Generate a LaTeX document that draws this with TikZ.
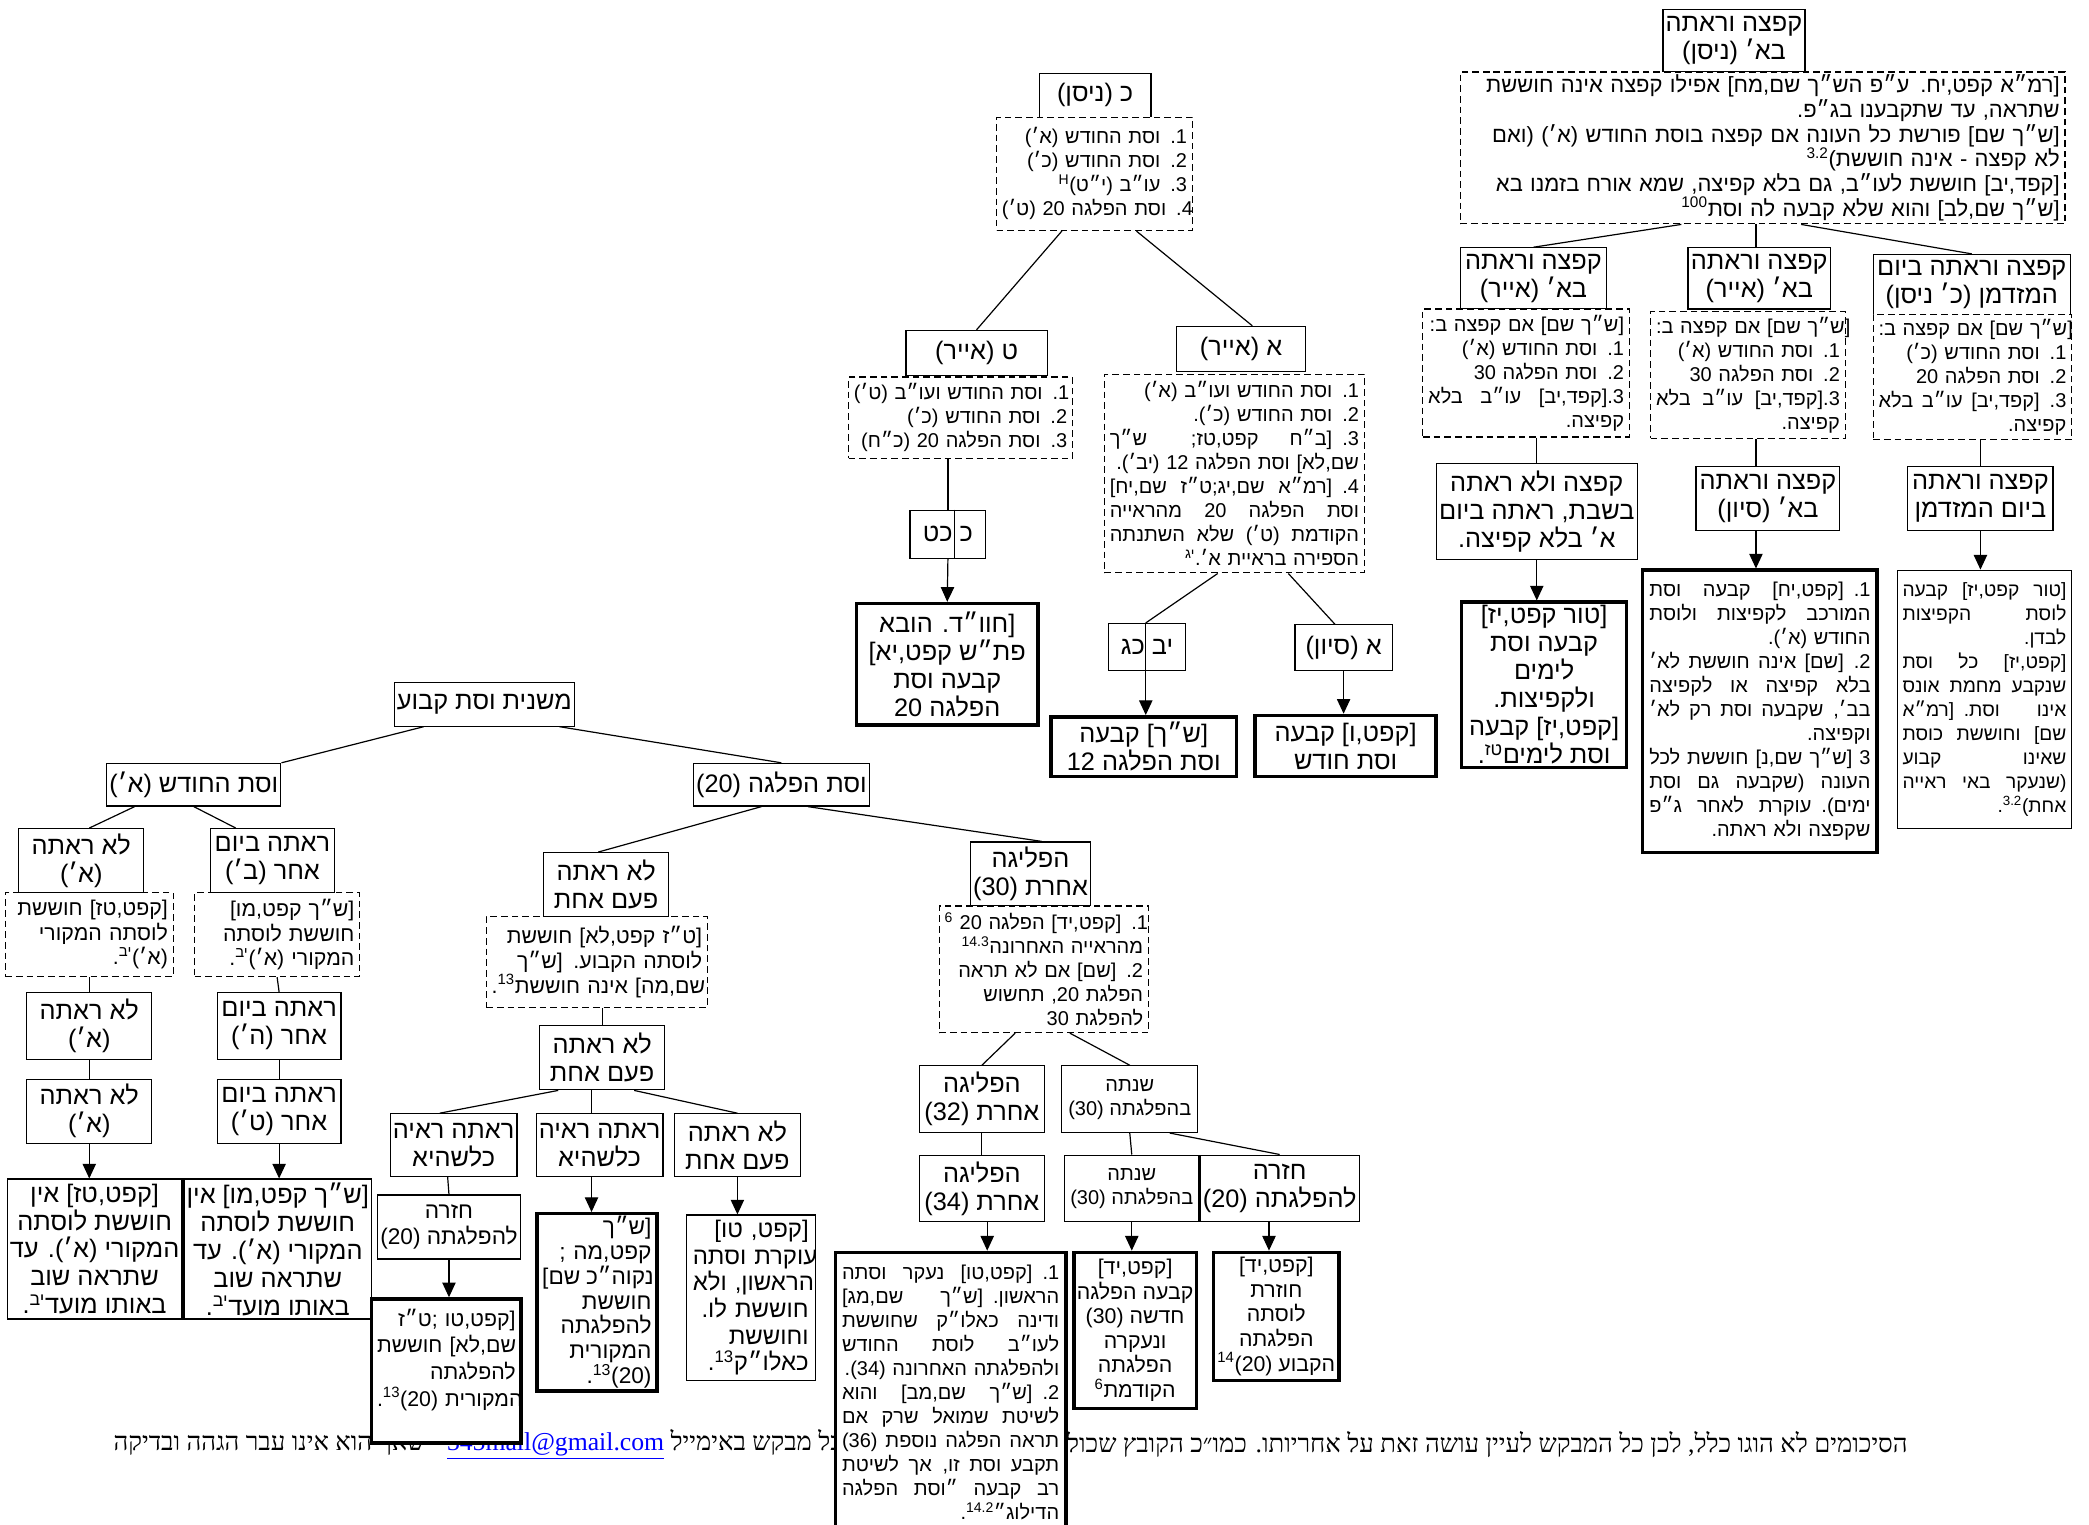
\documentclass[tikz,border=0pt]{standalone}
\usepackage{fontspec}
\usepackage{xcolor}
\usetikzlibrary{arrows.meta}
\newfontfamily\heb[Script=Hebrew]{Liberation Sans}
\newfontfamily\hebr[Script=Hebrew]{Liberation Serif}
\TeXXeTstate=1
\newcommand{\rln}[1]{\leavevmode\hbox{\beginR #1\endR}}
\newcommand{\rlj}[1]{\leavevmode\hbox to \hsize{\spaceskip=0.25em plus 1fil\beginR #1\endR}}
\newcommand{\sps}[1]{\textsuperscript{#1}}
\newcommand{\bigtxt}{\heb\fontsize{19}{21}\selectfont}
\newcommand{\midtxt}{\heb\fontsize{17}{20}\selectfont}
\newcommand{\smalltxt}{\heb\fontsize{15}{18}\selectfont}
\newcommand{\dtxt}{\heb\fontsize{16}{18.5}\selectfont}
\newcommand{\foottxt}{\hebr\fontsize{19.3}{22}\selectfont}
\tikzset{
  box/.style={draw,fill=white,line width=0.9pt,font=\bigtxt,align=center,inner sep=2pt},
  tbox/.style={box,line width=2.6pt},
  dbox/.style={draw,fill=white,line width=0.9pt,dash pattern=on 5pt off 3pt,
    font=\smalltxt,align=right,inner xsep=4pt,inner ysep=2pt},
  link/.style={line width=0.9pt},
  arr/.style={line width=0.9pt,-{Triangle[length=11pt,width=10pt]}}
}
\begin{document}
\begin{tikzpicture}[x=1pt,y=-1pt]
\useasboundingbox (0,0) rectangle (1568,1144);
\clip (0,0) rectangle (1568,1144);
% bas de page (sous les cadres)
\node[anchor=east,font=\foottxt,inner sep=0pt] (foota) at (1432,1084)
  {\rln{הסיכומים לא הוגו כלל, לכן כל המבקש לעיין עושה זאת על אחריותו. כמו״כ הקובץ שכולל את}};
\node[anchor=west,font=\foottxt,inner sep=0pt] (footb) at (85,1084)
  {\rln{נשלח לכל מבקש באימייל \beginL\textcolor{blue}{\underline{345mail@gmail.com}}\endL{} - שאף הוא אינו עבר הגהה ובדיקה}};

% קפצה וראתה בא' (ניסן)
\node[box,minimum width=93,minimum height=47] (nisan) at (1301.5,30.5) {\rln{קפצה וראתה}\\\rln{בא׳ (ניסן)}};
\node[dbox,minimum width=454,minimum height=114,text width=446,font=\heb\fontsize{16.5}{18.5}\selectfont] (nisand) at (1323,111)
  {\rln{[רמ״א קפט,יח. ע״פ הש״ך שם,מח] אפילו קפצה אינה חוששת}\\
   \rln{שתראה, עד שתקבענו בג״פ.}\\
   \rln{[ש״ך שם] פורשת כל העונה אם קפצה בוסת החודש (א׳) (ואם}\\
   \rln{לא קפצה - אינה חוששת)\sps{3.2}}\\
   \rln{[קפד,יב] חוששת לעו״ב, גם בלא קפיצה, שמא אורח בזמנו בא}\\
   \rln{[ש״ך שם,לב] והוא שלא קבעה לה וסת\sps{100}}};
\node[box,minimum width=110,minimum height=46] (iyarA) at (1151,209) {\rln{קפצה וראתה}\\\rln{בא׳ (אייר)}};
\node[box,minimum width=107,minimum height=46] (iyarB) at (1320.5,209) {\rln{קפצה וראתה}\\\rln{בא׳ (אייר)}};
\node[box,minimum width=148,minimum height=45] (mezuman) at (1480,213.5) {\rln{קפצה וראתה ביום}\\\rln{המזדמן (כ׳ ניסן)}};
\node[dbox,minimum width=155,minimum height=96,text width=147] (iyarAd) at (1145.5,280)
  {\rln{[ש״ך שם] אם קפצה ב:}\\\rln{1. וסת החודש (א׳)}\\\rln{2. וסת הפלגה 30}\\\rlj{3.[קפד,יב] עו״ב בלא}\\\rln{קפיצה.}};
\node[dbox,minimum width=146,minimum height=95,text width=138] (iyarBd) at (1312,281.5)
  {\rln{[ש״ך שם] אם קפצה ב:}\\\rln{1. וסת החודש (א׳)}\\\rln{2. וסת הפלגה 30}\\\rlj{3.[קפד,יב] עו״ב בלא}\\\rln{קפיצה.}};
\node[dbox,minimum width=149,minimum height=94,text width=141] (mezumand) at (1480.5,283)
  {\rln{[ש״ך שם] אם קפצה ב:}\\\rln{1. וסת החודש (כ׳)}\\\rln{2. וסת הפלגה 20}\\\rlj{3. [קפד,יב] עו״ב בלא}\\\rln{קפיצה.}};
\node[box,minimum width=151,minimum height=72] (shabbat) at (1153.5,384) {\rln{קפצה ולא ראתה}\\\rln{בשבת, ראתה ביום}\\\rln{א׳ בלא קפיצה.}};
\node[box,minimum width=108,minimum height=48] (sivan) at (1327,374) {\rln{קפצה וראתה}\\\rln{בא׳ (סיון)}};
\node[box,minimum width=109,minimum height=48] (mezumanB) at (1486.5,374) {\rln{קפצה וראתה}\\\rln{ביום המזדמן}};
\node[tbox,minimum width=124,minimum height=124] (resA) at (1159,514)
  {\rln{[טור קפט,יז]}\\\rln{קבעה וסת}\\\rln{לימים}\\\rln{ולקפיצות.}\\\rln{[קפט,יז] קבעה}\\\rln{וסת לימים\sps{טז}.}};
\node[tbox,minimum width=176,minimum height=212,font=\smalltxt,align=right,text width=166] (resB) at (1321,534)
  {\rlj{1. [קפט,יח] קבעה וסת}\\\rlj{המורכב לקפיצות ולוסת}\\\rln{החודש (א׳).}\\
   \rlj{2. [שם] אינה חוששת לא׳}\\\rlj{בלא קפיצה או לקפיצה}\\\rlj{בב׳, שקבעה וסת רק לא׳}\\\rln{וקפיצה.}\\
   \rlj{3 [ש״ך שם,נ] חוששת לכל}\\\rlj{העונה (שקבעה גם וסת}\\\rlj{ימים). עוקרת לאחר ג״פ}\\\rln{שקפצה ולא ראתה.}};
\node[box,minimum width=131,minimum height=194,font=\heb\fontsize{14.4}{18}\selectfont,align=right,text width=123] (resC) at (1489.5,525)
  {\rlj{[טור קפט,יז] קבעה}\\\rlj{לוסת הקפיצות}\\\rln{לבדן.}\\\rlj{[קפט,יז] כל וסת}\\\rlj{שנקבע מחמת אונס}\\
   \rlj{אינו וסת. [רמ״א}\\\rlj{שם] וחוששת כוסת}\\\rlj{שאינו קבוע}\\\rlj{(שנעקר באי ראייה}\\\rln{אחת)\sps{3.2}.}};

% כ (ניסן)
\node[box,minimum width=84,minimum height=33] (kn) at (822,71.5) {\rln{כ (ניסן)}};
\node[dbox,minimum width=147,minimum height=85,text width=139] (knd) at (821.5,130.5)
  {\rln{1. וסת החודש (א׳)}\\\rln{2. וסת החודש (כ׳)}\\\rln{3. עו״ב (י״ט)\sps{H}}\\\rln{4. וסת הפלגה 20 (ט׳)}};
\node[box,minimum width=106,minimum height=34] (tiyar) at (733,265) {\rln{ט (אייר)}};
\node[dbox,minimum width=168,minimum height=61,text width=160] (tiyard) at (721,313.5)
  {\rln{1. וסת החודש ועו״ב (ט׳)}\\\rln{2. וסת החודש (כ׳)}\\\rln{3. וסת הפלגה 20 (כ״ח)}};
\node[box,minimum width=57,minimum height=36] (kkt) at (711.5,401) {\rln{כ כט}};
\node[tbox,minimum width=136,minimum height=91] (hvd) at (711,498.5)
  {\rln{[חוו״ד. הובא}\\\rln{פת״ש קפט,יא]}\\\rln{קבעה וסת}\\\rln{הפלגה 20}};
\node[box,minimum width=97,minimum height=34] (aiyar) at (931.5,262) {\rln{א (אייר)}};
\node[dbox,minimum width=195,minimum height=149,text width=187] (aiyard) at (926.5,355.5)
  {\rln{1. וסת החודש ועו״ב (א׳)}\\\rln{2. וסת החודש (כ׳).}\\\rlj{3. [ב״ח קפט,טז; ש״ך}\\\rln{שם,לא] וסת הפלגה 12 (יב׳).}\\
   \rlj{4. [רמ״א שם,יג;ט״ז שם,יח]}\\\rlj{וסת הפלגה 20 מהראייה}\\\rlj{הקודמת (ט׳) שלא השתנתה}\\\rln{הספירה בראיית א׳.\sps{יג}}};
\node[box,minimum width=58,minimum height=35] (ybkg) at (861,485.5) {\rln{יב כג}};
\node[box,minimum width=73,minimum height=34] (asivan) at (1008.5,486) {\rln{א (סיון)}};
\node[tbox,minimum width=139,minimum height=45] (res12) at (858.5,560.5) {\rln{[ש״ך] קבעה}\\\rln{וסת הפלגה 12}};
\node[tbox,minimum width=136,minimum height=46] (reshodesh) at (1010,560) {\rln{[קפט,ו] קבעה}\\\rln{וסת חודש}};

% משנית וסת קבוע
\node[box,minimum width=135,minimum height=33] (mishnit) at (363.5,528.5) {\rln{משנית וסת קבוע}};
\node[box,minimum width=125,minimum height=32] (hodesh) at (145.5,589) {\rln{וסת החודש (א׳)}};
\node[box,minimum width=121,minimum height=32] (haflaga) at (586.5,589) {\rln{וסת הפלגה (20)}};
\node[box,minimum width=94,minimum height=48] (lo1) at (61,646) {\rln{לא ראתה}\\\rln{(א׳)}};
\node[box,minimum width=93,minimum height=48] (ra1) at (204.5,646) {\rln{ראתה ביום}\\\rln{אחר (ב׳)}};
\node[dbox,minimum width=126,minimum height=63,text width=118,font=\dtxt] (lo1d) at (67,701.5)
  {\rln{[קפט,טז] חוששת}\\\rln{לוסתה המקורי}\\\rln{(א׳)\sps{יב}.}};
\node[dbox,minimum width=124,minimum height=63,text width=116,font=\dtxt] (ra1d) at (208,701.5)
  {\rln{[ש״ך קפט,מו]}\\\rln{חוששת לוסתה}\\\rln{המקורי (א׳)\sps{יב}.}};
\node[box,minimum width=94,minimum height=50] (lo2) at (67,770) {\rln{לא ראתה}\\\rln{(א׳)}};
\node[box,minimum width=93,minimum height=50] (ra2) at (209.5,770) {\rln{ראתה ביום}\\\rln{אחר (ה׳)}};
\node[box,minimum width=94,minimum height=48] (lo3) at (67,834) {\rln{לא ראתה}\\\rln{(א׳)}};
\node[box,minimum width=93,minimum height=48] (ra3) at (209.5,834) {\rln{ראתה ביום}\\\rln{אחר (ט׳)}};
\node[box,minimum width=118,minimum height=105] (lores) at (71,937.5)
  {\rln{[קפט,טז] אין}\\\rln{חוששת לוסתה}\\\rln{המקורי (א׳). עד}\\\rln{שתראה שוב}\\\rln{באותו מועד\sps{יב}.}};
\node[box,minimum width=125,minimum height=105] (rares) at (208.5,937.5)
  {\rln{[ש״ך קפט,מו] אין}\\\rln{חוששת לוסתה}\\\rln{המקורי (א׳). עד}\\\rln{שתראה שוב}\\\rln{באותו מועד\sps{יב}.}};

% לא ראתה פעם אחת
\node[box,minimum width=94,minimum height=48] (q1) at (455,664) {\rln{לא ראתה}\\\rln{פעם אחת}};
\node[dbox,minimum width=166,minimum height=68,text width=158,font=\dtxt] (q1d) at (448,722)
  {\rln{[ט״ז קפט,לא] חוששת}\\\rln{לוסתה הקבוע. [ש״ך}\\\rln{שם,מה] אינה חוששת\sps{13}.}};
\node[box,minimum width=94,minimum height=48] (q2) at (452,794) {\rln{לא ראתה}\\\rln{פעם אחת}};
\node[box,minimum width=93,minimum height=47] (s1) at (340.5,859.5) {\rln{ראתה ראיה}\\\rln{כלשהיא}};
\node[box,minimum width=94,minimum height=47] (s2) at (450,859.5) {\rln{ראתה ראיה}\\\rln{כלשהיא}};
\node[box,minimum width=95,minimum height=47] (s3) at (553.5,859.5) {\rln{לא ראתה}\\\rln{פעם אחת}};
\node[box,minimum width=98,minimum height=48,font=\midtxt] (t1) at (337,921) {\rln{חזרה}\\\rln{להפלגתה (20)}};
\node[tbox,minimum width=112,minimum height=108,align=right,text width=104,font=\heb\fontsize{16}{20}\selectfont] (u1) at (335,1029)
  {\rln{[קפט,טו ;ט״ז}\\\rln{שם,לא] חוששת}\\\rln{להפלגתה}\\\rln{המקורית (20)\sps{13}.}\\~};
\node[tbox,minimum width=90,minimum height=131,align=right,text width=82,font=\heb\fontsize{17}{18.6}\selectfont] (u2) at (448,977.5)
  {\rln{[ש״ך}\\\rln{קפט,מה ;}\\\rlj{נקוה״כ שם]}\\\rln{חוששת}\\\rln{להפלגתה}\\\rln{המקורית}\\\rln{(20)\sps{13}.}};
\node[box,minimum width=97,minimum height=124,align=right,text width=87,font=\heb\fontsize{18}{20}\selectfont] (u3) at (563.5,974)
  {\rln{[קפט, טו]}\\\rln{עוקרת וסתה}\\\rln{הראשון, ולא}\\\rln{חוששת לו.}\\\rln{וחוששת}\\\rln{כאלו״ק\sps{13}.}};

% הפליגה אחרת (30)
\node[box,minimum width=85,minimum height=48] (r1) at (773.5,656) {\rln{הפליגה}\\\rln{אחרת (30)}};
\node[dbox,minimum width=157,minimum height=95,text width=149] (r1d) at (783.5,727.5)
  {\rln{1. [קפט,יד] הפלגה 20 \sps{6}}\\\rln{מהראייה האחרונה\sps{14.3}}\\\rln{2. [שם] אם לא תראה}\\\rln{הפלגת 20, תחשוש}\\\rln{להפלגת 30}};
\node[box,minimum width=94,minimum height=50] (v1) at (737,825) {\rln{הפליגה}\\\rln{אחרת (32)}};
\node[box,minimum width=102,minimum height=50,font=\smalltxt] (v2) at (848,825) {\rln{שנתה}\\\rln{בהפלגתה (30)}};
\node[box,minimum width=94,minimum height=50] (w1) at (737,892) {\rln{הפליגה}\\\rln{אחרת (34)}};
\node[box,minimum width=101,minimum height=50,font=\smalltxt] (w2) at (849.5,892) {\rln{שנתה}\\\rln{בהפלגתה (30)}};
\node[box,minimum width=107,minimum height=50] (w3) at (960.5,892) {\rln{חזרה}\\\rln{להפלגתה (20)}};
\node[tbox,minimum width=173,minimum height=210,font=\smalltxt,align=right,text width=163] (x1) at (713.5,1045)
  {\rlj{1. [קפט,טו] נעקר וסתה}\\\rlj{הראשון. [ש״ך שם,מג]}\\\rlj{ודינה כאלו״ק שחוששת}\\\rlj{לעו״ב לוסת החודש}\\
   \rln{ולהפלגתה האחרונה (34).}\\\rlj{2. [ש״ך שם,מב] והוא}\\\rlj{לשיטת שמואל שרק אם}\\\rlj{תראה הפלגה נוספת (36)}\\
   \rlj{תקבע וסת זו, אך לשיטת}\\\rlj{רב קבעה ״וסת הפלגה}\\\rln{הדילוג״\sps{14.2}.}};
\node[tbox,minimum width=92,minimum height=117,font=\dtxt] (x2) at (852,998.5)
  {\rln{[קפט,יד]}\\\rln{קבעה הפלגה}\\\rln{חדשה (30)}\\\rln{ונעקרה}\\\rln{הפלגתה}\\\rln{הקודמת\sps{6}}};
\node[tbox,minimum width=94,minimum height=96,font=\dtxt] (x3) at (958,988)
  {\rln{[קפט,יד]}\\\rln{חוזרת}\\\rln{לוסתה}\\\rln{הפלגתה}\\\rln{הקבוע (20)\sps{14}}};

% liens
\draw[link] ([xshift=-61]nisand.south) -- (iyarA.north);
\draw[link] ([xshift=-9]sivan.north |- nisand.south) -- ([xshift=-9]sivan.north |- iyarB.north);
\draw[link] ([xshift=29]nisand.south) -- (mezuman.north);
\draw[link] (shabbat.north |- iyarAd.south) -- (shabbat.north);
\draw[link] ([xshift=-9]sivan.north |- iyarBd.south) -- ([xshift=-9]sivan.north);
\draw[link] (mezumanB.north |- mezumand.south) -- (mezumanB.north);
\draw[arr] (shabbat.south) -- (shabbat.south |- resA.north);
\draw[arr] ([xshift=-9]sivan.south) -- ([xshift=-9]sivan.south |- resB.north);
\draw[arr] (mezumanB.south) -- (mezumanB.south |- resC.north);

\draw[link] ([xshift=-24.5]knd.south) -- (tiyar.north);
\draw[link] ([xshift=31.5]knd.south) -- ([xshift=8.5]aiyar.north);
\draw[link] (kkt.north |- tiyard.south) -- (kkt.north);
\draw[link] ([xshift=5]kkt.north) -- ([xshift=5]kkt.south);
\draw[arr] (kkt.south) -- (hvd.north);
\draw[link] ([xshift=-12.5]aiyard.south) -- ([xshift=-1]ybkg.north);
\draw[link] ([xshift=-1]ybkg.north) -- ([xshift=-1]ybkg.south);
\draw[link] ([xshift=40.5]aiyard.south) -- ([xshift=-6.5]asivan.north);
\draw[arr] ([xshift=-1]ybkg.south) -- ([xshift=-1]ybkg.south |- res12.north);
\draw[arr] (asivan.south) -- (asivan.south |- reshodesh.north);

\draw[link] ([xshift=-45.5]mishnit.south) -- (hodesh.north east);
\draw[link] ([xshift=56.5]mishnit.south) -- (haflaga.north);
\draw[link] ([xshift=-44.5]hodesh.south) -- ([xshift=6]lo1.north);
\draw[link] (hodesh.south) -- ([xshift=-27.5]ra1.north);
\draw[link] (lo1d.south) -- (lo2.north);
\draw[link] (lo2.south) -- (lo3.north);
\draw[arr] (lo3.south) -- (lo3.south |- lores.north);
\draw[link] (ra1d.south) -- (ra2.north);
\draw[link] (ra2.south) -- (ra3.north);
\draw[arr] (ra3.south) -- (ra3.south |- rares.north);

\draw[link] ([xshift=-15]haflaga.south) -- ([xshift=-6]q1.north);
\draw[link] ([xshift=20]haflaga.south) -- ([xshift=8.5]r1.north);
\draw[link] (q2.north |- q1d.south) -- (q2.north);
\draw[link] ([xshift=-33]q2.south) -- ([xshift=-10.5]s1.north);
\draw[link] ([xshift=-8]q2.south) -- ([xshift=-6]s2.north);
\draw[link] ([xshift=24]q2.south) -- (s3.north);
\draw[link] ([xshift=-4.5]s1.south) -- (t1.north);
\draw[arr] (t1.south) -- (t1.south |- u1.north);
\draw[arr] ([xshift=-6]s2.south) -- ([xshift=-6]s2.south |- u2.north);
\draw[arr] (s3.south) -- (s3.south |- u3.north);

\draw[link] ([xshift=-21.5]r1d.south) -- (v1.north);
\draw[link] ([xshift=19.5]r1d.south) -- (v2.north);
\draw[link] (v1.south) -- (w1.north);
\draw[link] (v2.south) -- (w2.north);
\draw[link] ([xshift=30]v2.south) -- (w3.north);
\draw[arr] ([xshift=4]w1.south) -- ([xshift=4]w1.south |- x1.north);
\draw[arr] (w2.south) -- (w2.south |- x2.north);
\draw[arr] ([xshift=-8]w3.south) -- ([xshift=-8]w3.south |- x3.north);
\end{tikzpicture}
\end{document}
